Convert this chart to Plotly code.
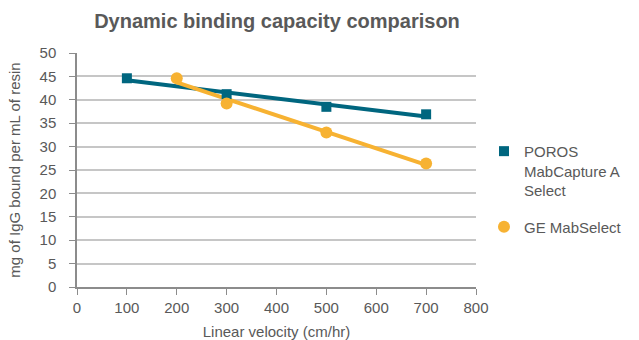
import numpy as np
import plotly.graph_objects as go

velocity_poros = [100, 300, 500, 700]
dbc_poros = [44.6, 41.2, 38.5, 36.9]
velocity_ge = [200, 300, 500, 700]
dbc_ge = [44.6, 39.2, 33.0, 26.4]

name_poros = "POROS<br>MabCapture A<br>Select"
name_ge = "GE MabSelect"
x_ticks = [0, 100, 200, 300, 400, 500, 600, 700, 800]
y_ticks = [0, 5, 10, 15, 20, 25, 30, 35, 40, 45, 50]

c_poros = "#00667f"
c_ge = "#f7b232"
txt = "#595959"


def trend(xs, ys):
    k, b = np.polyfit(xs, ys, 1)
    xe = [min(xs), max(xs)]
    return xe, [k * v + b for v in xe]


fig = go.Figure()
tx, ty = trend(velocity_poros, dbc_poros)
fig.add_trace(go.Scatter(x=tx, y=ty, mode="lines", line=dict(color=c_poros, width=4),
                         showlegend=False, hoverinfo="skip", legendgroup="poros"))
tx, ty = trend(velocity_ge, dbc_ge)
fig.add_trace(go.Scatter(x=tx, y=ty, mode="lines", line=dict(color=c_ge, width=4),
                         showlegend=False, hoverinfo="skip", legendgroup="ge"))
fig.add_trace(go.Scatter(x=velocity_poros, y=dbc_poros, mode="markers", name=name_poros,
                         legendgroup="poros",
                         marker=dict(symbol="square", size=10, color=c_poros)))
fig.add_trace(go.Scatter(x=velocity_ge, y=dbc_ge, mode="markers", name=name_ge,
                         legendgroup="ge",
                         marker=dict(symbol="circle", size=12, color=c_ge)))

fig.update_layout(
    width=639, height=340,
    margin=dict(l=77, r=160, t=53, b=53),
    paper_bgcolor="white", plot_bgcolor="white",
    font=dict(family="Liberation Sans, Arial, sans-serif", size=15, color=txt),
    title=dict(text="<b>Dynamic binding capacity comparison</b>", x=277 / 639, xanchor="center",
               y=1 - 21 / 340, yanchor="middle", font=dict(size=20, color=txt)),
    legend=dict(x=1.02, xanchor="left", y=0.65, yanchor="top", valign="top",
                font=dict(size=15, color=txt), tracegroupgap=14, itemwidth=30),
    xaxis=dict(range=[0, 800], tickvals=x_ticks, showgrid=False, showline=True,
               linecolor="#8c8c8c", linewidth=1.5, ticks="outside", ticklen=6,
               tickcolor="#8c8c8c", zeroline=False, automargin=False,
               tickfont=dict(size=15),
               title=dict(text="Linear velocity (cm/hr)", font=dict(size=15))),
    yaxis=dict(range=[0, 50], tickvals=y_ticks, showgrid=True, gridcolor="#c6c6c6",
               gridwidth=1.5, showline=True, linecolor="#8c8c8c", linewidth=1.5,
               ticks="outside", ticklen=6, tickcolor="#8c8c8c", zeroline=False,
               automargin=False, tickfont=dict(size=15), ticklabelstandoff=10,
               title=dict(text="mg of IgG bound per mL of resin", font=dict(size=15))),
)

fig.write_html("out.html", config={"displayModeBar": False},
               post_script="document.body.style.margin='0';")
